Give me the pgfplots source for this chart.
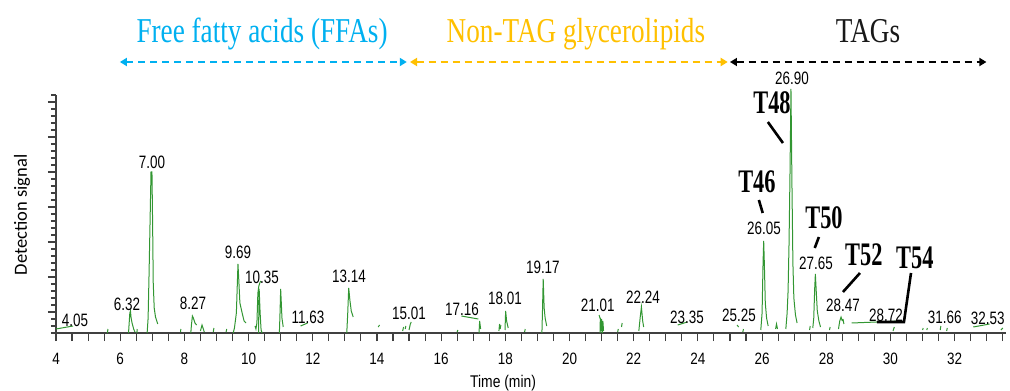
\documentclass[border=0pt]{standalone}
\usepackage{fontspec}
\usepackage{pgfplots}
\pgfplotsset{compat=1.18}
\usetikzlibrary{arrows.meta}

\newfontfamily\hv[FakeStretch=0.75]{Liberation Sans}
\newfontfamily\hvt[FakeStretch=0.82]{Liberation Sans}
\newfontfamily\hdr[FakeStretch=0.78]{Liberation Serif}
\newfontfamily\tlab[FakeStretch=0.68]{Liberation Serif Bold}
\newfontfamily\carl{Carlito}

\definecolor{ffa}{RGB}{0,176,240}
\definecolor{ntag}{RGB}{255,192,0}
\definecolor{trace}{RGB}{50,150,50}

\newcommand\tickfont{\hvt\fontsize{16.5}{18}\selectfont}
\newcommand\pkfont{\hv\fontsize{18}{20}\selectfont}
\newcommand\hdrfont{\hdr\fontsize{35}{36}\selectfont}
\newcommand\tfont{\tlab\fontsize{33}{34}\selectfont}

\begin{document}
\begin{tikzpicture}
\path[use as bounding box] (0,0) rectangle (1010bp,391bp);
\begin{axis}[
  at={(56bp,58bp)}, anchor=south west,
  scale only axis, width=950bp, height=238bp,
  xmin=4, xmax=33.6, ymin=0, ymax=238,
  axis x line=bottom, axis y line=left,
  axis line style={-, draw=black!75, line width=1.3bp},
  tick align=outside,
  major tick length=8bp, minor tick length=5bp,
  tick style={draw=black!75, line width=1.1bp},
  xtick={4,6,...,32},
  extra x ticks={4.5,5,...,33.5},
  extra x tick labels={},
  ytick={21,56,91,126,161,196,231},
  yticklabels={},
  minor ytick={0,7,...,238},
  ticklabel style={font=\tickfont},
  /pgf/number format/assume math mode=true,
  xticklabel style={yshift=-9bp},
  clip=false,
  unbounded coords=jump,
]
% chromatogram trace (time in min, signal)
\addplot[trace, line width=1.0bp] coordinates {
 (4.00,4) (4.53,7) (4.6,nan)
 (5.60,0) (5.62,4) (5.7,nan)
 (6.26,0) (6.28,10) (6.30,20) (6.32,22) (6.34,15) (6.37,10) (6.42,4) (6.46,1) (6.47,nan)
 (6.52,0) (6.53,4) (6.6,nan)
 (6.84,0) (6.87,15) (6.90,60) (6.93,110) (6.96,161) (6.99,161) (7.01,110) (7.03,50) (7.06,25) (7.10,16) (7.17,9) (7.2,nan)
 (7.88,1) (7.89,4) (7.9,nan)
 (8.20,0) (8.22,8) (8.25,17) (8.28,15) (8.33,10) (8.38,8) (8.4,nan)
 (8.50,2) (8.55,8) (8.59,4) (8.62,1) (8.7,nan)
 (8.90,1) (8.92,5) (9.0,nan)
 (9.30,1) (9.32,4) (9.4,nan)
 (9.52,0) (9.56,5) (9.62,20) (9.67,69) (9.70,50) (9.73,30) (9.80,20) (9.86,12) (9.92,10) (9.95,nan)
 (10.20,7) (10.23,4) (10.26,10) (10.29,40) (10.32,47) (10.35,50) (10.38,52) (10.39,nan)
 (10.31,0) (10.33,44) (10.36,20) (10.39,3) (10.42,0) (10.5,nan)
 (10.96,0) (10.98,20) (11.00,44) (11.02,30) (11.04,15) (11.08,6) (11.1,nan)
 (11.62,7) (11.84,10) (11.9,nan)
 (13.06,0) (13.09,20) (13.12,45) (13.16,32) (13.20,22) (13.26,16) (13.3,nan)
 (14.04,6) (14.08,8) (14.1,nan)
 (14.80,2) (14.83,6) (14.85,nan)
 (14.88,4) (14.90,7) (14.95,nan)
 (15.00,3) (15.04,9) (15.07,11) (15.1,nan)
 (16.50,1) (16.52,3) (16.6,nan)
 (16.63,17) (17.16,14) (17.17,nan)
 (17.18,0) (17.20,12) (17.23,4) (17.3,nan)
 (17.80,2) (17.82,9) (17.83,nan)
 (17.84,4) (17.86,8) (17.9,nan)
 (17.99,3) (18.01,22) (18.04,12) (18.09,5) (18.1,nan)
 (18.60,1) (18.62,4) (18.7,nan)
 (19.14,0) (19.16,25) (19.18,54) (19.21,25) (19.24,15) (19.29,7) (19.3,nan)
 (20.92,18) (20.98,12) (20.99,nan)
 (20.95,0) (20.96,15) (20.98,2) (21.00,14) (21.02,0) (21.04,12) (21.06,2) (21.1,nan)
 (21.50,1) (21.52,4) (21.55,nan)
 (21.62,6) (21.64,10) (21.7,nan)
 (22.16,2) (22.20,15) (22.24,26) (22.28,12) (22.31,6) (22.4,nan)
 (23.37,8) (23.67,11) (23.7,nan)
 (25.22,8) (25.27,6) (25.3,nan)
 (25.40,1) (25.42,4) (25.5,nan)
 (25.96,3) (26.00,20) (26.03,70) (26.05,92) (26.07,70) (26.10,30) (26.14,15) (26.19,7) (26.2,nan)
 (26.42,4) (26.45,9) (26.48,4) (26.5,nan)
 (26.74,4) (26.78,20) (26.81,42) (26.84,90) (26.87,160) (26.90,244) (26.93,150) (26.96,70) (26.99,35) (27.04,18) (27.09,10) (27.1,nan)
 (27.48,3) (27.50,7) (27.55,nan)
 (27.58,5) (27.61,15) (27.64,45) (27.66,59) (27.69,40) (27.72,22) (27.77,12) (27.82,6) (27.9,nan)
 (28.10,3) (28.12,6) (28.2,nan)
 (28.38,4) (28.42,12) (28.46,16) (28.50,12) (28.51,nan)
 (28.52,14) (28.55,9) (28.6,nan)
 (28.79,10) (29.57,11) (30.30,12) (30.31,nan)
 (30.08,2) (30.12,6) (30.2,nan)
 (31.00,3) (31.02,5) (31.05,nan)
 (31.13,3) (31.15,5) (31.2,nan)
 (31.55,3) (31.57,7) (31.6,nan)
 (31.75,2) (31.77,5) (31.8,nan)
 (32.58,6) (33.09,9) (33.1,nan)
 (33.44,3) (33.50,5)
};

% retention-time labels
\begin{scope}[every node/.style={font=\pkfont, inner sep=0pt}]
\node at (axis cs:4.59,13) {4.05};
\node at (axis cs:6.21,29) {6.32};
\node at (axis cs:6.99,171) {7.00};
\node at (axis cs:8.27,30) {8.27};
\node at (axis cs:9.67,81) {9.69};
\node at (axis cs:10.42,56) {10.35};
\node at (axis cs:11.85,16) {11.63};
\node at (axis cs:13.13,57) {13.14};
\node at (axis cs:15.00,20) {15.01};
\node at (axis cs:16.65,24) {17.16};
\node at (axis cs:17.99,35) {18.01};
\node at (axis cs:19.17,66) {19.17};
\node at (axis cs:20.88,28) {21.01};
\node at (axis cs:22.29,36) {22.24};
\node at (axis cs:23.66,16) {23.35};
\node at (axis cs:25.28,18) {25.25};
\node at (axis cs:26.06,105) {26.05};
\node at (axis cs:26.93,255) {26.90};
\node at (axis cs:27.68,70) {27.65};
\node at (axis cs:28.52,28) {28.47};
\node at (axis cs:29.86,18) {28.72};
\node at (axis cs:31.69,16) {31.66};
\node at (axis cs:33.03,15) {32.53};
\end{scope}

% TAG class labels with leaders
\begin{scope}[every node/.style={font=\tfont, inner sep=0pt}]
\node at (axis cs:26.31,230) {T48};
\node at (axis cs:25.84,151) {T46};
\node at (axis cs:27.93,115) {T50};
\node at (axis cs:29.17,78) {T52};
\node at (axis cs:30.76,75) {T54};
\end{scope}
\draw[line width=2.6bp] (axis cs:26.18,211) -- (axis cs:26.65,190);
\draw[line width=2.6bp] (axis cs:25.90,133) -- (axis cs:26.02,120);
\draw[line width=2.6bp] (axis cs:27.77,96) -- (axis cs:27.64,85);
\draw[line width=2.6bp] (axis cs:29.05,60) -- (axis cs:28.52,41);
\draw[line width=2.6bp] (axis cs:30.64,60) -- (axis cs:30.42,11) -- (axis cs:29.58,11);

% compound class ranges
\begin{scope}[line width=2.4bp, dash pattern=on 7bp off 5bp,
  {Triangle[length=7bp,width=8bp]}-{Triangle[length=7bp,width=8bp]}]
\draw[ffa] (axis cs:5.99,271) -- (axis cs:14.93,271);
\draw[ntag] (axis cs:15.03,271) -- (axis cs:24.93,271);
\draw[black] (axis cs:25.00,271) -- (axis cs:32.99,271);
\end{scope}
\node[font=\hdrfont, text=ffa, anchor=base, inner sep=0pt] at (axis cs:10.42,291) {Free fatty acids (FFAs)};
\node[font=\hdrfont, text=ntag, anchor=base, inner sep=0pt] at (axis cs:20.20,291) {Non-TAG glycerolipids};
\node[font=\hdrfont, text=black!90, anchor=base, inner sep=0pt] at (axis cs:29.30,291) {TAGs};

% axis titles
\node[font=\hvt\fontsize{17}{18}\selectfont, inner sep=0pt] at (axis cs:17.93,-50) {Time (min)};
\node[font=\carl\fontsize{18.6}{20}\selectfont, rotate=90, inner sep=0pt] at (axis cs:2.94,118) {Detection signal};
\end{axis}
\end{tikzpicture}
\end{document}
